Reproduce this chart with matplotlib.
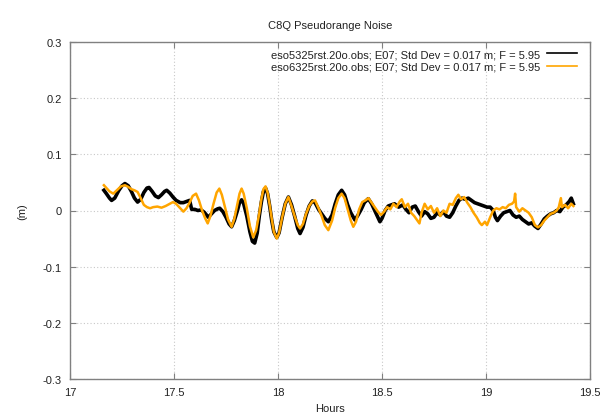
import matplotlib
matplotlib.use("Agg")
import matplotlib.pyplot as plt

plt.rcParams['font.family'] = ['Liberation Sans', 'DejaVu Sans']

title = "C8Q Pseudorange Noise"
xlabel = "Hours"
ylabel = "(m)"
label_b = "eso5325rst.20o.obs; E07; Std Dev = 0.017 m; F = 5.95"
label_o = "eso6325rst.20o.obs; E07; Std Dev = 0.017 m; F = 5.95"
xticks = [17, 17.5, 18, 18.5, 19, 19.5]
xticklabels = ["17", "17.5", "18", "18.5", "19", "19.5"]
yticks = [-0.3, -0.2, -0.1, 0, 0.1, 0.2, 0.3]
yticklabels = ["-0.3", "-0.2", "-0.1", "0", "0.1", "0.2", "0.3"]

hours_b = [17.163, 17.175, 17.19, 17.20, 17.215, 17.235, 17.25, 17.264, 17.28, 17.295,
           17.31, 17.325, 17.34, 17.355, 17.37, 17.38, 17.395, 17.41, 17.425, 17.44,
           17.455, 17.465, 17.48, 17.495, 17.51, 17.53, 17.545, 17.56, 17.575, 17.585,
           17.60, 17.615, 17.63, 17.645, 17.665, 17.68, 17.695, 17.71, 17.72, 17.735,
           17.75, 17.765, 17.777, 17.79, 17.805, 17.815, 17.825, 17.835, 17.85, 17.865,
           17.877, 17.888, 17.90, 17.91, 17.92, 17.93, 17.94, 17.95, 17.96, 17.97,
           17.98, 17.994, 18.005, 18.02, 18.035, 18.05, 18.065, 18.08, 18.095, 18.106,
           18.12, 18.135, 18.15, 18.165, 18.178, 18.195, 18.21, 18.225, 18.242, 18.26,
           18.275, 18.29, 18.306, 18.32, 18.335, 18.35, 18.37, 18.385, 18.40, 18.415,
           18.434, 18.45, 18.465, 18.48, 18.49, 18.50, 18.515, 18.53, 18.545, 18.56,
           18.58, 18.60, 18.615, 18.63, 18.645, 18.66, 18.675, 18.69, 18.705, 18.72,
           18.735, 18.75, 18.765, 18.78, 18.795, 18.81, 18.825, 18.84, 18.855, 18.87,
           18.885, 18.90, 18.915, 18.93, 18.945, 18.96, 18.975, 18.99, 19.005, 19.02,
           19.035, 19.045, 19.055, 19.07, 19.085, 19.10, 19.115, 19.13, 19.145, 19.16,
           19.175, 19.19, 19.205, 19.22, 19.235, 19.25, 19.265, 19.28, 19.295, 19.31,
           19.325, 19.34, 19.355, 19.37, 19.385, 19.40, 19.41, 19.42]
noise_b = [0.036, 0.030, 0.022, 0.018, 0.022, 0.036, 0.044, 0.048, 0.044, 0.034,
           0.022, 0.015, 0.020, 0.032, 0.040, 0.041, 0.034, 0.026, 0.023, 0.028,
           0.034, 0.036, 0.031, 0.024, 0.018, 0.014, 0.014, 0.016, 0.018, 0.002,
           0.002, 0.000, 0.001, -0.003, -0.012, -0.006, 0.000, 0.003, 0.004, -0.002,
           -0.012, -0.024, -0.029, -0.018, 0.000, 0.014, 0.019, 0.012, -0.010, -0.038,
           -0.055, -0.058, -0.040, -0.010, 0.015, 0.034, 0.040, 0.030, 0.008, -0.018,
           -0.038, -0.048, -0.040, -0.012, 0.012, 0.024, 0.010, -0.010, -0.032, -0.041,
           -0.030, -0.008, 0.008, 0.017, 0.014, 0.002, -0.006, -0.014, -0.020, -0.008,
           0.012, 0.028, 0.036, 0.028, 0.010, -0.004, -0.017, -0.008, 0.002, 0.014,
           0.021, 0.012, 0.000, -0.012, -0.020, -0.014, 0.000, 0.008, 0.010, 0.012,
           0.006, 0.010, 0.002, -0.004, 0.006, 0.008, -0.002, -0.010, -0.002, -0.006,
           -0.014, -0.012, -0.004, -0.008, -0.002, -0.010, -0.012, -0.004, 0.008, 0.018,
           0.022, 0.020, 0.022, 0.018, 0.014, 0.012, 0.010, 0.008, 0.006, 0.006,
           0.000, -0.012, -0.018, -0.010, -0.004, -0.002, 0.000, -0.008, -0.012, -0.010,
           -0.016, -0.020, -0.024, -0.022, -0.028, -0.032, -0.024, -0.015, -0.010, -0.006,
           -0.004, 0.000, -0.002, 0.006, 0.010, 0.016, 0.022, 0.012]

hours_o = [17.163, 17.175, 17.19, 17.208, 17.225, 17.245, 17.264, 17.28, 17.295, 17.31,
           17.325, 17.34, 17.355, 17.37, 17.385, 17.40, 17.42, 17.44, 17.46, 17.48,
           17.495, 17.51, 17.525, 17.545, 17.56, 17.575, 17.59, 17.606, 17.62, 17.635,
           17.65, 17.662, 17.675, 17.69, 17.705, 17.718, 17.73, 17.745, 17.76, 17.777,
           17.79, 17.805, 17.815, 17.825, 17.835, 17.85, 17.865, 17.881, 17.895, 17.91,
           17.92, 17.93, 17.94, 17.95, 17.96, 17.97, 17.98, 17.994, 18.005, 18.02,
           18.035, 18.05, 18.065, 18.08, 18.095, 18.106, 18.12, 18.135, 18.15, 18.165,
           18.178, 18.195, 18.21, 18.225, 18.242, 18.26, 18.275, 18.29, 18.306, 18.32,
           18.335, 18.35, 18.362, 18.375, 18.39, 18.405, 18.42, 18.435, 18.45, 18.465,
           18.48, 18.495, 18.51, 18.525, 18.54, 18.555, 18.57, 18.585, 18.595, 18.61,
           18.625, 18.64, 18.655, 18.67, 18.68, 18.69, 18.705, 18.72, 18.735, 18.75,
           18.765, 18.78, 18.795, 18.81, 18.825, 18.84, 18.855, 18.867, 18.88, 18.895,
           18.91, 18.925, 18.94, 18.955, 18.97, 18.98, 18.995, 19.005, 19.02, 19.035,
           19.05, 19.065, 19.08, 19.095, 19.11, 19.125, 19.135, 19.14, 19.145, 19.16,
           19.175, 19.19, 19.205, 19.22, 19.235, 19.25, 19.265, 19.28, 19.295, 19.31,
           19.325, 19.34, 19.35, 19.36, 19.365, 19.38, 19.395, 19.41, 19.42]
noise_o = [0.045, 0.040, 0.034, 0.030, 0.036, 0.043, 0.045, 0.042, 0.038, 0.036,
           0.033, 0.022, 0.010, 0.006, 0.004, 0.006, 0.007, 0.005, 0.008, 0.012,
           0.015, 0.012, 0.006, -0.002, 0.004, 0.014, 0.026, 0.030, 0.018, 0.000,
           -0.014, -0.023, -0.010, 0.012, 0.032, 0.039, 0.028, 0.006, -0.016, -0.029,
           -0.015, 0.012, 0.030, 0.039, 0.030, 0.004, -0.028, -0.048, -0.035, -0.005,
           0.020, 0.038, 0.043, 0.032, 0.010, -0.015, -0.038, -0.050, -0.040, -0.012,
           0.012, 0.024, 0.008, -0.010, -0.026, -0.032, -0.024, -0.006, 0.008, 0.016,
           0.018, 0.004, -0.010, -0.026, -0.035, -0.018, 0.005, 0.022, 0.030, 0.022,
           0.002, -0.018, -0.029, -0.020, 0.002, 0.015, 0.018, 0.022, 0.014, 0.006,
           -0.002, -0.008, -0.002, 0.006, 0.002, 0.012, 0.006, 0.016, 0.020, 0.006,
           0.012, -0.004, -0.010, -0.018, -0.023, -0.004, 0.012, 0.002, 0.008, -0.004,
           0.004, -0.010, 0.000, -0.004, 0.012, 0.010, 0.022, 0.028, 0.020, 0.024,
           0.014, 0.006, -0.004, -0.012, -0.022, -0.026, -0.020, -0.026, -0.012, 0.000,
           0.004, 0.002, 0.006, 0.004, 0.010, 0.012, 0.016, 0.030, 0.006, -0.002,
           0.004, 0.000, -0.004, -0.012, -0.026, -0.030, -0.026, -0.018, -0.012, -0.006,
           -0.004, 0.000, 0.006, 0.022, 0.006, 0.010, 0.004, 0.012, 0.008]

fig = plt.figure(figsize=(6.0, 4.14), dpi=100)
ax = fig.add_axes([70/600, 1 - 380/414, 520/600, 337/414])

ax.plot(hours_b, noise_b, color='black', lw=2.6, label=label_b)
ax.plot(hours_o, noise_o, color='#FFA500', lw=1.8, label=label_o)

ax.set_xlim(17, 19.5)
ax.set_ylim(-0.3, 0.3)
ax.set_xticks(xticks)
ax.set_xticklabels(xticklabels)
ax.set_yticks(yticks)
ax.set_yticklabels(yticklabels)
ax.tick_params(direction='in', length=4, width=0.8, color='#808080',
               top=True, right=True, labelsize=8, labelcolor='#222222', pad=6)
for s in ax.spines.values():
    s.set_color('#808080')
    s.set_linewidth(1.0)
ax.grid(True, color='#c8c8c8', linestyle=(0, (1, 2)), linewidth=0.8)
ax.set_axisbelow(True)

ax.set_title(title, fontsize=8, color='#222222', pad=10)
ax.set_xlabel(xlabel, fontsize=8, color='#222222', labelpad=4)
ax.set_ylabel(ylabel, fontsize=8, color='#222222', labelpad=11)

leg = ax.legend(loc='upper right', markerfirst=False, frameon=False,
                fontsize=8, handlelength=2.7, handletextpad=0.6, labelspacing=0.25,
                borderpad=0.2, borderaxespad=0)
for t in leg.get_texts():
    t.set_color('#222222')
for h in leg.get_lines():
    h.set_linewidth(1.2)
leg.set_bbox_to_anchor((579/600, 1 - 48/414), transform=fig.transFigure)

fig.savefig('out.png', dpi=100)
